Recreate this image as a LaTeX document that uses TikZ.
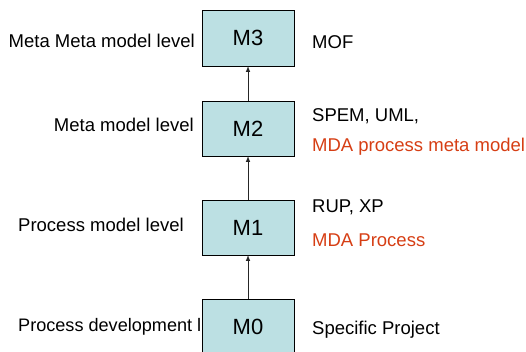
\documentclass[tikz,border=0pt]{standalone}
\usepackage{fontspec}
\setmainfont{Liberation Sans}
\usetikzlibrary{arrows, positioning}
\definecolor{boxfill}{RGB}{188,224,227}
\definecolor{mdared}{RGB}{214,62,20}
\tikzset{%
	level/.style={draw, rectangle, minimum width=92pt, minimum height=55pt,%
		inner sep=0pt, outer sep=0pt, fill=boxfill, line width=0.9pt,%
		font=\fontsize{22}{24}\selectfont},
	lbl/.style={inner sep=0pt, font=\fontsize{18.5}{20}\selectfont},
	mda/.style={lbl, text=mdared},
	up/.style={-latex, line width=1pt, draw=black!85}
}
\begin{document}
\begin{tikzpicture}[x=1pt, y=-1pt]
	\useasboundingbox (0,0) rectangle (526,351);
	\node[level, minimum height=56pt] (m3) at (248,38) {M3};
	\node[level, below=35pt of m3] (m2) {M2};
	\node[level, below=44pt of m2] (m1) {M1};
	% this text runs under M0
	\node[lbl, anchor=base west, font=\fontsize{18.1}{20}\selectfont] (pdl) at (18,331.7) {Process development level};
	\node[level, below=44pt of m1] (m0) {M0};
	
	\node[lbl, anchor=base east] (mml) at (195,47.7) {Meta Meta model level};
	\node[lbl, anchor=base east] (ml) at (194,131.7) {Meta model level};
	\node[lbl, anchor=base west] (pml) at (18,231.7) {Process model level};
	
	\node[lbl, anchor=base west] (mof) at (312,48.3) {MOF};
	\node[lbl, anchor=base west] (spem) at (312,121.7) {SPEM, UML,};
	\node[mda, anchor=base west] (mdameta) at (312,151.7) {MDA process meta model};
	\node[lbl, anchor=base west] (rup) at (312,212.7) {RUP, XP};
	\node[mda, anchor=base west] (mdaproc) at (312,246.7) {MDA Process};
	\node[lbl, anchor=base west] (spec) at (312,334.3) {Specific Project};
	
	\draw[up] (m2) to (m3);
	\draw[up] (m1) to (m2);
	\draw[up] (m0) to (m1);
\end{tikzpicture}
\end{document}
